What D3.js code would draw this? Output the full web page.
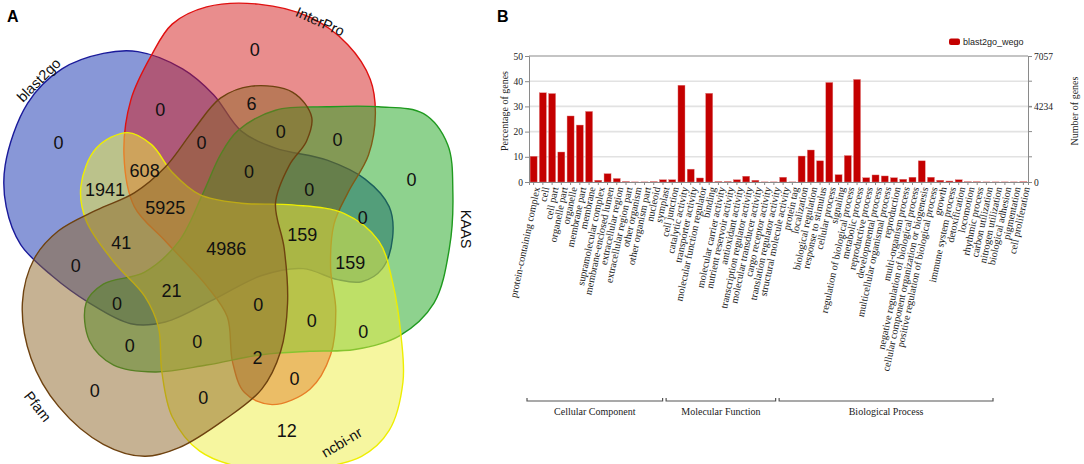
<!DOCTYPE html>
<html>
<head>
<meta charset="utf-8">
<style>
  body { margin: 0; background: #fff; }
  svg { display: block; }
  .serif { font-family: "Liberation Serif", "Times New Roman", serif; }
  .sans { font-family: "Liberation Sans", Arial, sans-serif; }
</style>
</head>
<body>
<div id="chart"></div>
<script src="https://d3js.org/d3.v7.min.js"></script>
<script>
// ---------- data: GO annotation (panel B) ----------
const ccTerms = ["protein-containing complex", "cell", "cell part", "organelle part", "organelle",
  "membrane part", "membrane", "supramolecular complex", "membrane-enclosed lumen",
  "extracellular region", "extracellular region part", "other organism", "other organism part",
  "nucleoid", "symplast", "cell junction"];
const ccPct = [10.2, 35.4, 35.1, 11.9, 26.2, 22.6, 28.0, 0.7, 3.3, 1.4, 0.2, 0.05, 0.05, 0.15, 0.9, 0.9];

const mfTerms = ["catalytic activity", "transporter activity", "molecular function regulator", "binding",
  "molecular carrier activity", "nutrient reservoir activity", "antioxidant activity",
  "transcription regulator activity", "molecular transducer activity", "cargo receptor activity",
  "translation regulator activity", "structural molecule activity", "protein tag"];
const mfPct = [38.4, 5.1, 1.6, 35.2, 0.2, 0.2, 0.9, 2.3, 0.7, 0.05, 0.05, 1.9, 0.05];

const bpTerms = ["localization", "biological regulation", "response to stimulus", "cellular process",
  "signaling", "regulation of biological process", "metabolic process", "reproductive process",
  "developmental process", "multicellular organismal process", "reproduction",
  "multi-organism process", "negative regulation of biological process",
  "cellular component organization or biogenesis", "positive regulation of biological process",
  "growth", "immune system process", "detoxification", "locomotion", "rhythmic process",
  "carbon utilization", "nitrogen utilization", "biological adhesion", "pigmentation",
  "cell proliferation"];
const bpPct = [10.3, 12.7, 8.4, 39.5, 2.9, 10.5, 40.7, 1.7, 2.8, 2.4, 1.7, 1.1, 1.9, 8.4, 1.9,
  0.7, 0.4, 0.9, 0.1, 0.1, 0.05, 0.05, 0.05, 0.05, 0.1];

const groupNames = ["Cellular Component", "Molecular Function", "Biological Process"];
const pctTicks = [0, 10, 20, 30, 40, 50];
const geneTicks = [0, 4234, 7057];
const geneMax = 7057;
const seriesName = "blast2go_wego";

// ---------- data: Venn (panel A) ----------
const vennSets = ["blast2go", "InterPro", "KAAS", "ncbi-nr", "Pfam"];
const vennCounts = [0, 0, 0, 6, 0, 0, 0, 0, 608, 1941, 0, 0, 5925, 0, 159, 41, 4986, 159, 0, 21,
  0, 0, 0, 0, 0, 0, 2, 0, 0, 0, 12];

// ---------- layout: Venn geometry in diagram units ----------
const vennLabelAt = [[170,415],[740,143],[465,318],[730,300],[815,383],[980,405],[585,415],
  [1195,520],[420,495],[305,550],[723,498],[898,550],[480,602],[1053,632],[878,680],[352,705],
  [657,722],[1017,762],[220,772],[498,843],[340,880],[750,883],[905,932],[1055,962],[377,1003],
  [573,992],[748,1037],[855,1100],[275,1135],[590,1153],[833,1250]];

const vennShapes = [
  // blast2go
  [[15,480],[80,300],[180,200],[300,155],[400,150],[530,200],[620,275],[700,380],[800,430],
   [950,465],[1060,520],[1130,600],[1140,690],[1110,780],[1050,818],[980,812],[880,780],
   [760,800],[620,870],[480,935],[380,940],[260,880],[150,800],[60,710],[18,600]],
  // InterPro
  [[440,160],[500,70],[600,20],[750,12],[900,50],[1010,130],[1075,230],[1090,330],[1070,450],
   [1010,560],[970,650],[960,780],[975,900],[960,1030],[900,1130],[790,1175],[710,1140],
   [675,1050],[660,920],[600,830],[480,700],[390,600],[360,450],[380,290]],
  // KAAS
  [[690,380],[800,320],[950,310],[1100,310],[1230,330],[1300,420],[1315,560],[1305,720],
   [1260,880],[1160,975],[1030,1015],[900,1020],[760,1030],[600,1060],[450,1080],[330,1060],
   [260,990],[250,880],[300,825],[420,790],[520,700],[590,560],[640,450]],
  // ncbi-nr
  [[370,385],[440,420],[500,500],[580,565],[700,590],[850,595],[1000,620],[1100,700],
   [1140,820],[1165,980],[1170,1110],[1130,1250],[1050,1325],[900,1360],[720,1360],
   [580,1310],[500,1210],[470,1080],[460,950],[420,860],[330,760],[250,640],[235,540],[280,430]],
  // Pfam
  [[640,285],[730,250],[850,268],[905,340],[890,410],[840,480],[800,590],[825,720],[835,880],
   [815,1020],[760,1130],[650,1220],[520,1300],[420,1325],[300,1290],[170,1180],[90,1040],
   [65,880],[100,750],[170,670],[280,610],[390,560],[480,485],[560,380]]
];
const vennFill = ["#1230b0", "#d41c1c", "#1ea51e", "#eeee40", "#8e6528"];
const vennStroke = ["#1a1a9a", "#e01010", "#1f9a1f", "#eeee00", "#6e4210"];
const setLabelAt = [[112,232,-45],[930,62,24],[1355,665,90],[992,1284,-31],[110,1180,52]];

// ---------- svg ----------
const W = 1084, H = 464;
const svg = d3.select("#chart").append("svg")
  .attr("width", W).attr("height", H)
  .style("background", "white");

// panel letters
svg.append("text").attr("class", "sans").attr("x", 7).attr("y", 22)
  .style("font-size", "16px").style("font-weight", "bold").text("A");
svg.append("text").attr("class", "sans").attr("x", 497).attr("y", 22)
  .style("font-size", "16px").style("font-weight", "bold").text("B");

// ---------- Venn ----------
const vx = d3.scaleLinear().domain([0, 1568]).range([0, 540]);
const vy = d3.scaleLinear().domain([0, 1568]).range([0, 540]);
const blob = d3.line().x(d => vx(d[0])).y(d => vy(d[1])).curve(d3.curveCatmullRomClosed.alpha(0.5));

const venn = svg.append("g");
venn.selectAll("path.set")
  .data(vennShapes)
  .join("path")
  .attr("class", "set")
  .attr("d", blob)
  .attr("fill", (d, i) => vennFill[i])
  .attr("fill-opacity", 0.5)
  .attr("stroke", (d, i) => vennStroke[i])
  .attr("stroke-width", 1.4);

venn.selectAll("text.count")
  .data(vennCounts)
  .join("text")
  .attr("class", "count sans")
  .attr("x", (d, i) => vx(vennLabelAt[i][0]))
  .attr("y", (d, i) => vy(vennLabelAt[i][1]))
  .attr("dy", "0.36em")
  .attr("text-anchor", "middle")
  .style("font-size", "18px")
  .attr("fill", "#111")
  .text(d => d);

venn.selectAll("text.setname")
  .data(vennSets)
  .join("text")
  .attr("class", "setname sans")
  .attr("transform", (d, i) => `translate(${vx(setLabelAt[i][0])},${vy(setLabelAt[i][1])}) rotate(${setLabelAt[i][2]})`)
  .attr("dy", "0.36em")
  .attr("text-anchor", "middle")
  .style("font-size", "14.5px")
  .attr("fill", "#111")
  .text(d => d);

// ---------- bar chart ----------
const terms = ccTerms.concat(mfTerms, bpTerms);
const pct = ccPct.concat(mfPct, bpPct);
const plotL = 529, plotR = 1028, plotT = 56, plotB = 182;

const x = d3.scaleBand().domain(terms).range([plotL, plotR]).paddingInner(0.24).paddingOuter(0.12);
const y = d3.scaleLinear().domain([0, 50]).range([plotB, plotT]);
const yGenes = d3.scaleLinear().domain([0, geneMax]).range([plotB, plotT]);

const chart = svg.append("g");

// gridlines
chart.selectAll("line.grid")
  .data(pctTicks.slice(1, -1))
  .join("line")
  .attr("class", "grid")
  .attr("x1", plotL).attr("x2", plotR)
  .attr("y1", d => y(d)).attr("y2", d => y(d))
  .attr("stroke", "#e2e2e2").attr("stroke-width", 1.6);
chart.append("line")
  .attr("x1", plotL).attr("x2", plotR)
  .attr("y1", y(50)).attr("y2", y(50))
  .attr("stroke", "#8a8a8a").attr("stroke-width", 1.2);

// bars
chart.selectAll("rect.bar")
  .data(pct)
  .join("rect")
  .attr("class", "bar")
  .attr("x", (d, i) => x(terms[i]))
  .attr("width", x.bandwidth())
  .attr("y", d => y(d))
  .attr("height", d => plotB - y(d))
  .attr("fill", "#c40000")
  .attr("stroke", "#e08080")
  .attr("stroke-width", 0.4);

// left axis
const yAxis = d3.axisLeft(y).tickValues(pctTicks).tickSize(4).tickPadding(2);
const gl = chart.append("g").attr("transform", `translate(${plotL},0)`).call(yAxis);
gl.select(".domain").attr("stroke", "#8a8a8a");
gl.selectAll(".tick line").attr("stroke", "#8a8a8a");
gl.selectAll("text").attr("class", "serif").style("font-size", "9.5px").attr("fill", "#222");

// right axis
const yAxisR = d3.axisRight(yGenes).tickValues(geneTicks).tickFormat(d3.format("d"))
  .tickSize(4).tickPadding(2);
const gr = chart.append("g").attr("transform", `translate(${plotR},0)`).call(yAxisR);
gr.select(".domain").attr("stroke", "#8a8a8a");
gr.selectAll(".tick line").attr("stroke", "#8a8a8a");
gr.selectAll("text").attr("class", "serif").style("font-size", "9.5px").attr("fill", "#222");
gr.selectAll("line.minor")
  .data(pctTicks.slice(1, -1))
  .join("line")
  .attr("class", "minor")
  .attr("x1", 0).attr("x2", 4)
  .attr("y1", d => y(d)).attr("y2", d => y(d))
  .attr("stroke", "#8a8a8a");

// bottom axis
const xAxis = d3.axisBottom(x).tickSize(3).tickFormat("");
const gb = chart.append("g").attr("transform", `translate(0,${plotB})`).call(xAxis);
gb.select(".domain").attr("stroke", "#8a8a8a");
gb.selectAll(".tick line").attr("stroke", "#8a8a8a");

chart.selectAll("text.term")
  .data(terms)
  .join("text")
  .attr("class", "term serif")
  .attr("transform", d => `translate(${x(d) + x.bandwidth() / 2 + 3},${plotB + 5}) rotate(-78)`)
  .attr("text-anchor", "end")
  .attr("dy", "0.35em")
  .style("font-size", "10.2px")
  .attr("fill", "#222")
  .text(d => d);

// axis titles
svg.append("text").attr("class", "serif")
  .attr("transform", `translate(508,${(plotT + plotB) / 2 - 8}) rotate(-90)`)
  .attr("text-anchor", "middle").style("font-size", "10px").attr("fill", "#222")
  .text("Percentage of genes");
svg.append("text").attr("class", "serif")
  .attr("transform", `translate(1078,${(plotT + plotB) / 2 - 8}) rotate(-90)`)
  .attr("text-anchor", "middle").style("font-size", "10px").attr("fill", "#222")
  .text("Number of genes");

// legend
svg.append("rect").attr("x", 949).attr("y", 38.5).attr("width", 11).attr("height", 6.5)
  .attr("rx", 2).attr("fill", "#c40000");
svg.append("text").attr("class", "sans").attr("x", 963).attr("y", 45)
  .style("font-size", "9px").attr("fill", "#222").text(seriesName);

// group brackets
const groupSizes = [ccTerms.length, mfTerms.length, bpTerms.length];
const groupStart = groupSizes.map((n, i) => d3.sum(groupSizes.slice(0, i)));
const gx = d3.scaleLinear().domain([0, terms.length]).range([527, 996.5]);
const brackets = svg.append("g");
groupNames.forEach((name, i) => {
  const x0 = gx(groupStart[i]), x1 = gx(groupStart[i] + groupSizes[i]) - 3.5;
  brackets.append("path")
    .attr("d", `M${x0},398V401H${x1}V398`)
    .attr("fill", "none").attr("stroke", "#555").attr("stroke-width", 1.2);
  brackets.append("text").attr("class", "serif")
    .attr("x", (x0 + x1) / 2).attr("y", 415)
    .attr("text-anchor", "middle").style("font-size", "10px").attr("fill", "#222")
    .text(name);
});
</script>
</body>
</html>
